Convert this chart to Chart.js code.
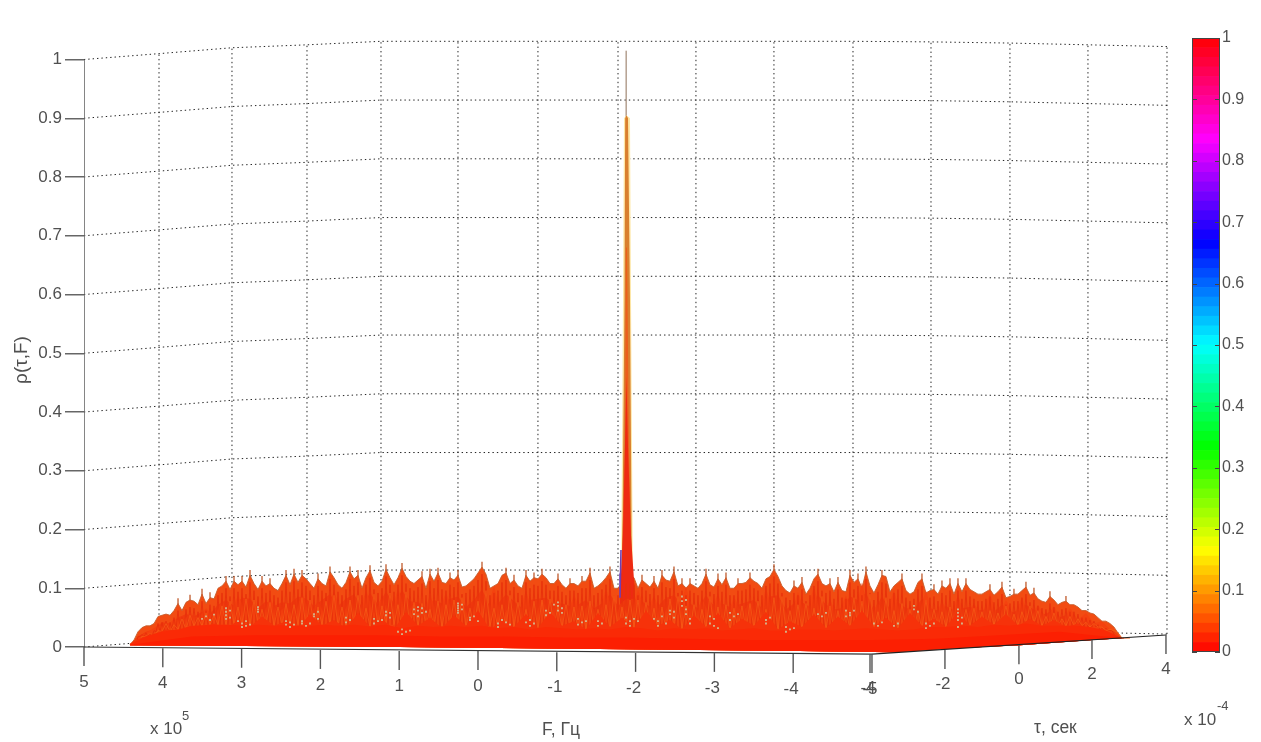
<!DOCTYPE html>
<html lang="ru">
<head>
<meta charset="utf-8">
<title>ρ(τ,F)</title>
<style>
html,body{margin:0;padding:0;background:#fff;width:1261px;height:742px;overflow:hidden}
#wrap{position:relative;width:1261px;height:742px}
canvas{position:absolute;top:0}
</style>
<script src="https://cdn.jsdelivr.net/npm/chart.js@4/dist/chart.umd.js"></script>
</head>
<body>
<div id="wrap">
<canvas id="surface" width="1261" height="742" style="left:0"></canvas>
<canvas id="bar" width="91" height="742" style="left:1170px"></canvas>
</div>
<script>
// ---- tick labels -------------------------------------------------------
const rhoTicks  = [0,0.1,0.2,0.3,0.4,0.5,0.6,0.7,0.8,0.9,1];
const fTicks    = [5,4,3,2,1,0,-1,-2,-3,-4,-5];
const fTickBase = [0,-0.002,-0.003,-0.005,-0.007,-0.007,-0.009,-0.010,-0.010,-0.012,-0.012];
const tauTicks  = [-4,-2,0,2,4];
const tauTickF  = [-4.975,-5.926,-6.865,-7.792,-8.731];
const tauTickBase = [-0.012,-0.005,0.003,0.012,0.0204];

// ---- back-wall grid (position along the F direction, rise of the wall) --
const wallF    = [5,4.048,3.122,2.170,1.231,0.254,-0.761,-1.777,-2.766,-3.756,-4.759,-5.749,-6.751,-7.741,-8.744];
const wallRise = [0,0.010,0.020,0.025,0.031,0.031,0.031,0.031,0.031,0.031,0.031,0.030,0.028,0.025,0.022];

// ---- surface silhouettes, back to front -------------------------------
const ridgeBack = [
.004,.012,.026,.033,.036,.036,.040,.052,.054,.056,.054,.062,.074,.062,.076,.080,.078,.072,.090,.074,
.084,.082,.100,.104,.112,.098,.112,.106,.112,.102,.122,.108,.098,.112,.104,.108,.100,.096,.108,.122,
.106,.124,.110,.122,.116,.108,.100,.116,.108,.104,
.128,.118,.106,.100,.110,.128,.116,.122,.100,.118,.130,.110,.104,.112,.132,.118,.106,.118,.134,.120,
.112,.108,.114,.120,.100,.124,.112,.126,.110,.108,.118,.114,.122,.102,.104,.110,.116,.126,.136,.124,
.100,.104,.108,.122,.126,.108,.114,.104,.100,.122,.112,.118,
.116,.124,.118,.108,.108,.116,.106,.100,.108,.108,.104,.112,.112,.126,.100,.104,.110,.118,.128,.100,
.100,.110,.120,.120,.118,.100,.114,.108,.102,.112,.100,.122,.114,.112,.128,.104,.108,.100,.108,.104,
.100,.108,.124,.106,.102,.116,.106,.118,.100,.100,.108,
.108,.110,.118,.112,.108,.100,.116,.120,.132,.120,.104,.096,.092,.104,.100,.110,.090,.100,.116,.124,
.108,.104,.108,.094,.110,.096,.094,.122,.110,.116,.100,.128,.104,.092,.106,.122,.120,.094,.104,.110,
.116,.096,.090,.094,.110,.116,.092,.096,.098,.090,.104,
.100,.108,.090,.108,.094,.108,.098,.094,.090,.090,.094,.098,.088,.094,.102,.084,.086,.090,.090,.096,
.102,.088,.092,.082,.078,.076,.086,.080,.072,.076,.078,.072,.072,.068,.062,.062,.058,.056,.050,.044,
.044,.040,.034,.024,.015];
const ridgeMid = [
.004,.018,.026,.030,.042,.040,.050,.056,.052,.060,.056,.072,.080,.070,.084,.082,.066,.078,.070,.076,
.074,.086,.082,.070,.080,.090,.070,.082,.090,.068,.092,.072,.094,.074,.096,.078,.076,.066,.080,.074,
.082,.086,.068,.080,.098,.068,.074,.090,.078,.066,.080,.082,.084,.072,.074,.070,.072,.080,.066,.074,
.090,.070,.082,.082,.078,.068,.070,.084,.088,.072,.074,.066,.088,.070,.074,.068,.072,.076,.080,.066,
.086,.088,.064,.074,.076,.068,.088,.072,.064,.066,.086,.080,.092,.062,.086,.064,.076,.066,.064,.082,
.066,.062,.070,.062,.066,.068,.062,.064,.060,.072,.058,.062,.072,.064,.054,.060,.050,.054,.050,.044,
.042,.036,.032,.026,.015];
const ridgeFlame = [
.010,.020,.028,.036,.034,.048,.044,.056,.050,.066,.052,.078,.056,.088,.060,.074,.052,.082,.058,.070,
.050,.092,.056,.078,.050,.096,.054,.080,.048,.098,.056,.086,.050,.100,.058,.074,.048,.088,.054,.094,
.050,.076,.046,.090,.056,.104,.050,.072,.052,.096,.048,.082,.054,.086,.046,.090,.056,.078,.048,.100,
.052,.074,.046,.098,.056,.088,.050,.076,.054,.104,.048,.082,.054,.092,.046,.086,.056,.078,.050,.100,
.054,.072,.048,.094,.052,.104,.046,.080,.054,.088,.050,.110,.048,.076,.052,.098,.046,.072,.054,.096,
.048,.078,.052,.088,.050,.074,.054,.092,.048,.080,.052,.084,.046,.072,.050,.070,.044,.066,.046,.058,
.040,.044,.030,.020];
const ridgeTongue = [
.006,.016,.022,.030,.028,.036,.032,.040,.030,.046,.034,.052,.036,.044,.032,.056,.036,.046,.032,.058,
.034,.048,.030,.060,.036,.050,.032,.054,.036,.062,.030,.046,.034,.056,.032,.060,.036,.044,.030,.058,
.034,.050,.032,.062,.036,.046,.030,.054,.034,.058,.032,.048,.036,.060,.030,.044,.034,.056,.032,.052,
.036,.062,.034,.050,.032,.058,.036,.048,.034,.060,.036,.052,.038,.056,.036,.048,.036,.046,.034,.040,
.030,.024,.015];
const ridgeLow = [
.004,.018,.026,.030,.036,.038,.038,.036,.038,.036,.038,.035,.038,.036,.038,.035,.038,.032,.036,.034,
.036,.034,.036,.032,.034,.030,.034,.032,.030,.032,.030,.034,.032,.028,.032,.030,.032,.028,.030,.032,
.028,.028,.030,.030,.028,.030,.032,.030,.028,.030,.034,.034,.036,.034,.038,.036,.040,.036,.036,.036,
.034,.028,.015];
const ridgeFront = [.004,.018,.020,.020,.020,.018,.018,.016,.016,.014,.012,.012,.012,.014,.020,.026,.015];
const surfaceEdgeF   = [4.416,0.990,-4.086,-5.266,-5.926,-6.878,-7.805,-8.173];
const surfaceEdgeRho = [0.003,0,-0.007,-0.009,-0.003,0.003,0.012,0.015];

// ---- central peak, outer to inner --------------------------------------
const peakHaloF   = [-1.815,-1.840,-1.853,-1.884,-1.929,-1.942,-1.967];
const peakHaloRho = [0.10,0.59,0.90,0.905,0.90,0.59,0.10];
const peakBodyF   = [-1.827,-1.859,-1.868,-1.884,-1.904,-1.929,-1.954];
const peakBodyRho = [0.10,0.59,0.90,0.905,0.90,0.59,0.10];
const peakDeepF   = [-1.815,-1.865,-1.878,-1.891,-1.916,-1.954];
const peakDeepRho = [0.10,0.34,0.68,0.68,0.34,0.10];
const peakCoreF   = [-1.802,-1.840,-1.865,-1.884,-1.904,-1.942,-1.992];
const peakCoreRho = [0.09,0.19,0.34,0.46,0.34,0.19,0.09];
const peakTipF    = [-1.880,-1.880];
const peakTipRho  = [0.90,1.015];
const peakTraceF  = [-1.802,-1.802,-1.815];
const peakTraceRho= [0.084,0.125,0.165];

// ---- white gaps in the mesh: column of the surface grid, height --------
const speckleCol = [19,20,18,21,24,24,24,24,25,25,28,29,28,30,29,27,32,32,32,39,40,40,41,39,43,44,43,45,46,46,47,47,54,55,54,61,62,61,63,64,64,65,65,68,69,68,70,67,72,72,73,73,71,72,74,71,82,82,82,82,82,83,83,85,85,86,87,92,93,94,92,95,99,100,101,100,104,105,104,107,107,108,107,106,108,112,113,112,114,117,118,117,124,125,126,124,127,125,131,132,133,132,134,135,135,136,136,138,138,138,139,139,139,140,140,145,146,147,145,146,150,151,152,150,159,160,159,164,165,164,166,172,173,174,179,180,180,181,179,186,187,188,191,192,196,196,197,199,200,199,201,207,207,207,207,208,207,208];
const speckleRho = [.052,.046,.048,.055,.066,.060,.054,.048,.062,.050,.040,.044,.034,.038,.036,.044,.068,.064,.060,.038,.042,.034,.038,.044,.040,.036,.044,.040,.056,.052,.060,.048,.050,.046,.042,.048,.044,.040,.046,.060,.054,.050,.058,.030,.026,.022,.028,.026,.068,.062,.058,.066,.056,.052,.060,.064,.074,.070,.066,.062,.058,.072,.064,.050,.046,.052,.044,.040,.046,.042,.034,.038,.042,.046,.040,.036,.062,.058,.054,.076,.070,.066,.062,.072,.058,.048,.042,.038,.044,.044,.040,.036,.050,.044,.048,.040,.044,.036,.048,.044,.052,.036,.040,.062,.056,.050,.060,.086,.078,.070,.080,.064,.056,.048,.040,.040,.036,.032,.052,.048,.058,.052,.056,.046,.046,.050,.040,.034,.030,.026,.032,.056,.052,.058,.062,.058,.054,.062,.052,.040,.036,.042,.036,.040,.070,.064,.060,.040,.036,.032,.040,.064,.058,.052,.046,.040,.034,.050];

// ---- colour bar --------------------------------------------------------
const barTicks  = [0,0.1,0.2,0.3,0.4,0.5,0.6,0.7,0.8,0.9,1];
const barStops  = [[255,0,0],[255,255,0],[0,255,0],[0,255,255],[0,0,255],[255,0,255],[255,0,0]];
const barLevels = 64;

// ---- helpers -----------------------------------------------------------
const FONT = '"Liberation Sans", Arial, sans-serif';
const INK = '#505050';
const gridF0 = 4.416, gridStep = 0.05076;           // surface sampling grid
const pairs = (xs, ys) => xs.map((x,i)=>({x, y:ys[i]})).sort((a,b)=>a.x-b.x);
const onGrid = (vals, every, shift=0) => pairs(vals.map((_,i)=>gridF0 - (i*every+shift)*gridStep), vals);
const plain = {showLine:true, pointRadius:0, pointHitRadius:0, tension:0, fill:false};

// mesh lines: each column of a row runs from its height down to the nearer row and back
const meshLines = (vals, every, shift, drop) => {
  const out = [];
  vals.forEach((v,i)=>{
    const col = i*every+shift;
    const low = ridgeLow[Math.min(Math.round(col/4), ridgeLow.length-1)];
    out.push({x:gridF0-col*gridStep, y:Math.max(v-drop,low)});
    out.push({x:gridF0-(col+every/2)*gridStep, y:low});
  });
  return out;
};
// peaks of a row rise as thin needles above the fold
const needles = (vals, rise, dip) => {
  const out = [];
  vals.forEach((v,i)=>{
    if (i>0 && i<vals.length-1 && v>vals[i-1] && v>=vals[i+1] && v>0.06) {
      const x = gridF0-i*gridStep;
      out.push({x,y:v-dip},{x,y:v+rise},{x,y:NaN});
    }
  });
  return out;
};

const layers = [];
const add = d => { layers.push(Object.assign({}, plain, d)); return layers.length-1; };

// base first so the fills can point to it
const edgeIdx = add({label:'edge', data:pairs(surfaceEdgeF,surfaceEdgeRho), borderWidth:0, borderColor:'rgba(0,0,0,0)'});

// wall grid
const DOT = {borderColor:'#222', borderWidth:1, borderDash:[1.4,3]};
rhoTicks.forEach(r => add(Object.assign({label:'wall '+r, data:pairs(wallF, wallRise.map(w=>r+w))}, DOT)));
wallF.slice(1).forEach((f,i) => add(Object.assign({label:'wallV '+f, data:[{x:f,y:wallRise[i+1]},{x:f,y:1+wallRise[i+1]}]}, DOT)));

const row = (label,vals,every,shift,fill,line,w) => add({label, data:onGrid(vals,every,shift), borderColor:line||fill, borderWidth:w===undefined?0.8:w, borderJoinStyle:'miter', backgroundColor:fill, fill:{target:edgeIdx}});

// back ridge, peak, then the rows in front of it
add({label:'ridge needles', data:needles(ridgeBack,0.009,0.012), borderColor:'#bf5a2c', borderWidth:1.3, spanGaps:false});
row('ridge back', ridgeBack, 1, 0, '#f24c12', '#c65e2c', 0.9);
add({label:'peak tip', data:pairs(peakTipF,peakTipRho), borderColor:'#8f7058', borderWidth:1});
add({label:'peak halo', data:pairs(peakHaloF,peakHaloRho), borderWidth:0, backgroundColor:'#fde7a6', fill:{value:0}});
add({label:'peak body', data:pairs(peakBodyF,peakBodyRho), borderWidth:0, backgroundColor:'#d97f2e', fill:{value:0}});
add({label:'peak deep', data:pairs(peakDeepF,peakDeepRho), borderWidth:0, backgroundColor:'#ec5e1c', fill:{value:0}});
add({label:'peak core', data:pairs(peakCoreF,peakCoreRho), borderWidth:0, backgroundColor:'#ee2a12', fill:{value:0}});
add({label:'peak trace', data:pairs(peakTraceF,peakTraceRho), borderColor:'#6f3fb5', borderWidth:1.6});
row('ridge mid', ridgeMid, 2, 0, '#f03a0e', '#f03a0e', 0);
row('ridge flame', ridgeFlame, 2, 1, '#f4420f', '#f4420f', 0);
add({label:'mesh red', data:meshLines(ridgeBack,1,0,0.012), borderColor:'#e8300b', borderWidth:0.9});
add({label:'mesh orange', data:meshLines(ridgeMid,2,1,0.002), borderColor:'#f75f17', borderWidth:0.7});
row('ridge tongue', ridgeTongue, 3, 0, '#f6320a', '#f6320a', 0);
row('ridge low', ridgeLow, 4, 0, '#fa2a06', '#fa2a06', 0);
row('ridge front', ridgeFront, 15.5, 0, '#fc1f02', '#fc1f02', 0);
add({label:'mesh gaps', data:speckleCol.map((c,i)=>({x:gridF0-c*gridStep, y:speckleRho[i]})), showLine:false, pointRadius:1.3, pointStyle:'rect', pointBackgroundColor:'#d3b88e', pointBorderWidth:0});

// axes that run along the floor
add({label:'rho axis', data:[{x:5,y:0},{x:5,y:1}], borderColor:'#666', borderWidth:1.6});
add({label:'F axis', data:pairs([fTicks[0],fTicks[10]],[fTickBase[0],fTickBase[10]]), borderColor:'#333', borderWidth:1.2});
add({label:'tau axis', data:pairs([fTicks[10],tauTickF[4]],[fTickBase[10],tauTickBase[4]]), borderColor:'#222', borderWidth:1.2});
layers.forEach((d,i)=>{ d.order = layers.length - i; });

const floorAxes = {
  id:'floorAxes',
  afterDraw(chart){
    const {ctx, scales:{x, y}} = chart;
    ctx.save();
    ctx.font = '17px '+FONT; ctx.fillStyle = INK; ctx.textAlign='center'; ctx.textBaseline='middle';
    ctx.strokeStyle = '#555'; ctx.lineWidth = 1.4;
    const tick = (pos, base, text, len, gap) => {
      const px = x.getPixelForValue(pos), py = y.getPixelForValue(base);
      ctx.beginPath(); ctx.moveTo(px,py); ctx.lineTo(px,py+len); ctx.stroke();
      ctx.fillText(text, px-(text<0?2:0), py+gap);
    };
    fTicks.forEach((f,i)=>tick(f, fTickBase[i], String(f), 19, 35));
    tauTicks.forEach((t,i)=>tick(tauTickF[i], tauTickBase[i], String(t), 19, 34));
    ctx.textAlign='left';
    ctx.fillText('x 10',150,729);
    ctx.font = '17.5px '+FONT;
    ctx.fillText('F, Гц',542,730);
    ctx.fillText('τ, сек',1034,728);
    ctx.font = '17px '+FONT;
    ctx.fillText('x 10',1184,720);
    ctx.font='13px '+FONT;
    ctx.fillText('5',182,716);
    ctx.fillText('-4',1217,706);
    ctx.font='19px '+FONT;
    ctx.translate(22,360); ctx.rotate(-Math.PI/2); ctx.textAlign='center';
    ctx.fillText('ρ(τ,F)',0,0);
    ctx.restore();
  }
};

new Chart(document.getElementById('surface'),{
  type:'scatter',
  data:{datasets:layers},
  plugins:[floorAxes],
  options:{
    responsive:false, animation:false, events:[],
    layout:{padding:0, autoPadding:false},
    plugins:{legend:{display:false}, tooltip:{enabled:false}},
    scales:{
      x:{type:'linear', display:false, reverse:true, min:-9.937, max:5},
      y:{type:'linear', min:-0.1617, max:1.1013,
         afterFit(s){ s.width = 84; s.paddingTop = 0; s.paddingBottom = 0; },
         afterBuildTicks(s){ s.ticks = rhoTicks.map(v=>({value:v})); },
         border:{display:false},
         grid:{drawOnChartArea:false, drawTicks:true, tickLength:19, tickColor:'#666', lineWidth:1.5},
         ticks:{padding:3, color:INK, font:{family:FONT,size:17}, callback:v=>String(v)}}
    }
  }
});

// ---- colour bar chart --------------------------------------------------
const levelColor = k => {
  const t = (k+0.5)/barLevels*(barStops.length-1), i = Math.min(Math.floor(t),barStops.length-2), f = t-i;
  const c = barStops[i].map((v,j)=>Math.round(v+(barStops[i+1][j]-v)*f));
  return `rgb(${c[0]},${c[1]},${c[2]})`;
};
const barFrame = {
  id:'barFrame',
  afterDraw(chart){
    const {ctx, chartArea:a, scales:{y}} = chart;
    ctx.save(); ctx.strokeStyle='#444'; ctx.lineWidth=1;
    ctx.strokeRect(a.left+.5,a.top+.5,a.right-a.left-1,a.bottom-a.top-1);
    barTicks.forEach(v=>{
      const p = Math.round(y.getPixelForValue(v))+.5;
      ctx.beginPath(); ctx.moveTo(a.left,p); ctx.lineTo(a.left+5,p); ctx.moveTo(a.right-5,p); ctx.lineTo(a.right,p); ctx.stroke();
    });
    ctx.restore();
  }
};
new Chart(document.getElementById('bar'),{
  type:'bar',
  data:{labels:['ρ'], datasets:Array.from({length:barLevels},(_,k)=>({label:'level '+k, data:[1/barLevels], backgroundColor:levelColor(k), borderWidth:0, categoryPercentage:1, barPercentage:1}))},
  plugins:[barFrame],
  options:{
    responsive:false, animation:false, events:[],
    layout:{padding:{left:22,top:38,bottom:90,right:0}},
    plugins:{legend:{display:false}, tooltip:{enabled:false}},
    scales:{
      x:{stacked:true, display:false},
      y:{stacked:true, position:'right', min:0, max:1,
         afterFit(s){ s.width = 41; },
         afterBuildTicks(s){ s.ticks = barTicks.map(v=>({value:v})); },
         border:{display:false},
         grid:{drawOnChartArea:false, drawTicks:false},
         ticks:{padding:2, color:INK, font:{family:FONT,size:16}, callback:v=>String(v)}}
    }
  }
});
</script>
</body>
</html>
